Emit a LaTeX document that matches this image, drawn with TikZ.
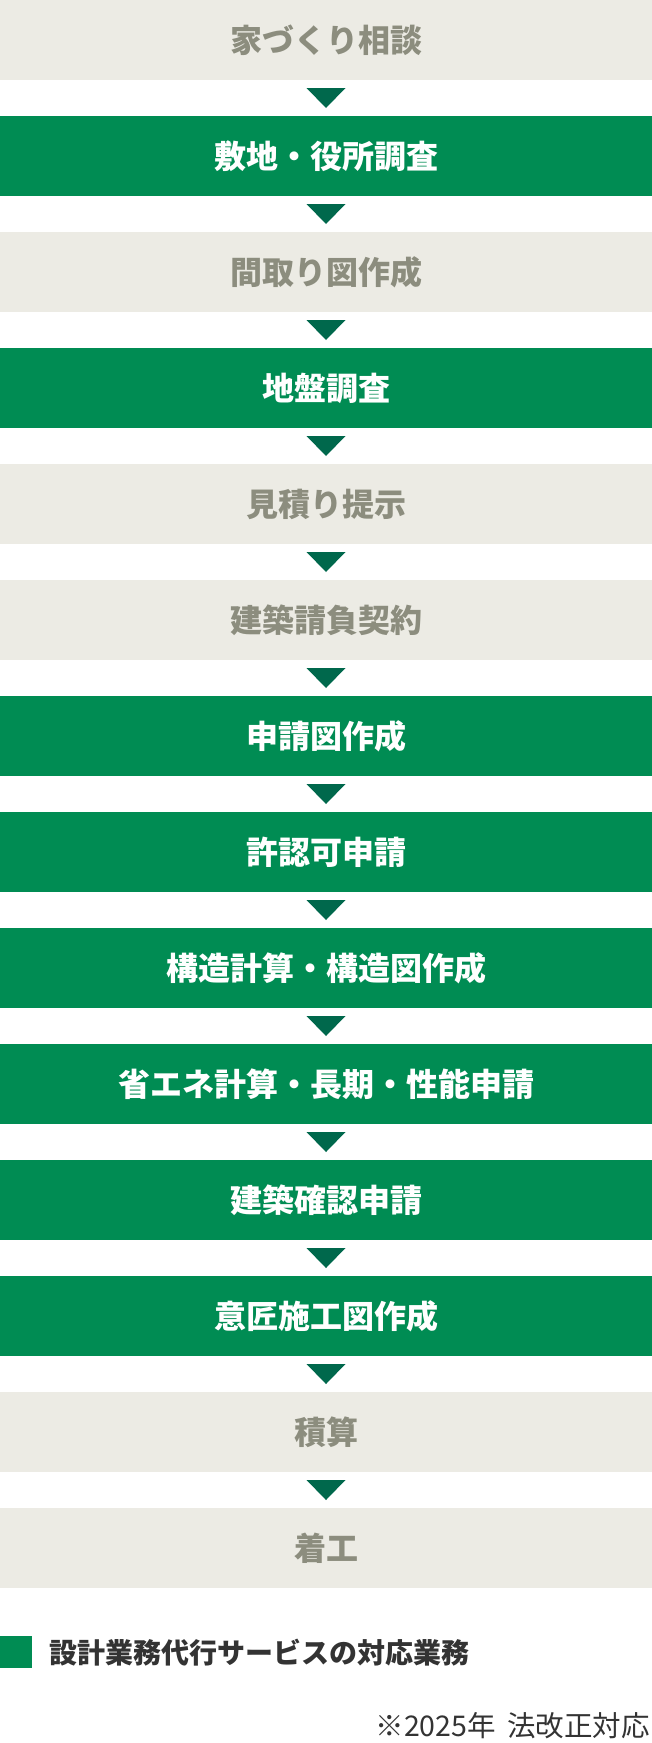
\documentclass[tikz,border=0pt]{standalone}
\usepackage{fontspec}
\setmainfont{Noto Sans CJK JP}
\usetikzlibrary{positioning}
\definecolor{boxgreen}{RGB}{0,140,83}
\definecolor{stepgreen}{RGB}{0,104,76}
\definecolor{boxgrey}{RGB}{236,235,228}
\definecolor{greytext}{RGB}{140,141,126}
\definecolor{keytext}{RGB}{51,51,51}
\tikzset{
  stage/.style={minimum width=652pt,minimum height=80pt,inner sep=0pt,outer sep=0pt,
    font=\fontsize{32pt}{32pt}\selectfont\bfseries},
  greystage/.style={stage,fill=boxgrey,text=greytext},
  greenstage/.style={stage,fill=boxgreen,text=white},
  stepdown/.style={fill=stepgreen}
}
\begin{document}
\begin{tikzpicture}
  \useasboundingbox (0pt,0pt) rectangle (652pt,-1743pt);
  \node[greystage] (s1) at (326pt,-40pt) {家づくり相談};
  \node[greenstage,below=36pt of s1] (s2) {敷地・役所調査};
  \node[greystage,below=36pt of s2] (s3) {間取り図作成};
  \node[greenstage,below=36pt of s3] (s4) {地盤調査};
  \node[greystage,below=36pt of s4] (s5) {見積り提示};
  \node[greystage,below=36pt of s5] (s6) {建築請負契約};
  \node[greenstage,below=36pt of s6] (s7) {申請図作成};
  \node[greenstage,below=36pt of s7] (s8) {許認可申請};
  \node[greenstage,below=36pt of s8] (s9) {構造計算・構造図作成};
  \node[greenstage,below=36pt of s9] (s10) {省エネ計算・長期・性能申請};
  \node[greenstage,below=36pt of s10] (s11) {建築確認申請};
  \node[greenstage,below=36pt of s11] (s12) {意匠施工図作成};
  \node[greystage,below=36pt of s12] (s13) {積算};
  \node[greystage,below=36pt of s13] (s14) {着工};
  % down markers between stages
  \foreach \a in {1,...,13}
    \fill[stepdown] (s\a.south) ++(-19.5pt,-8pt) -- ++(39pt,0pt) -- ++(-19.5pt,-20pt) -- cycle;
  % legend
  \node[fill=boxgreen,minimum size=32pt,inner sep=0pt,anchor=north west] (key) at (0pt,-1636pt) {};
  \node[right=17pt of key,inner sep=0pt,text=keytext,font=\fontsize{28pt}{28pt}\selectfont\bfseries] (keylabel) {設計業務代行サービスの対応業務};
  \node[anchor=east,inner sep=0pt,text=keytext,font=\fontsize{28.5pt}{28.5pt}\selectfont] (note) at (650pt,-1726pt) {※2025年\hspace{0.4em}法改正対応};
\end{tikzpicture}
\end{document}
